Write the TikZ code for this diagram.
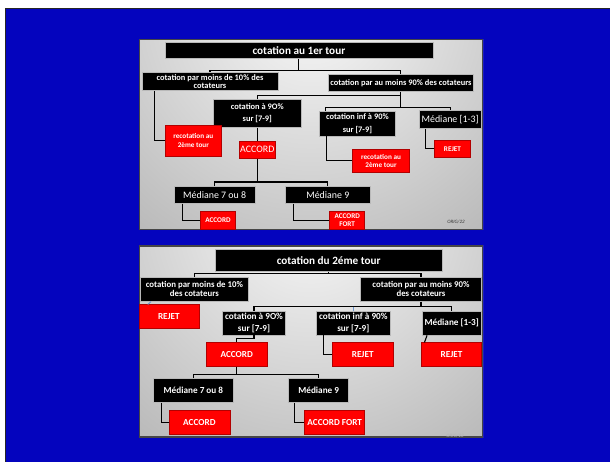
\documentclass[tikz,border=0pt]{standalone}
\usepackage{fontspec}
\setmainfont{Carlito}
\usetikzlibrary{calc}
\definecolor{slideblue}{RGB}{4,4,190}
\definecolor{tickblue}{RGB}{110,150,205}
\tikzset{
	blackbox/.style={
		rectangle,
		fill=black,
		text=white,
		draw=gray!55,
		line width=.6pt,
		align=center,
		inner sep=0pt
	},
	redbox/.style={
		rectangle,
		fill=red,
		text=white,
		draw=red!70!black,
		line width=.5pt,
		align=center,
		inner sep=0pt
	},
	link/.style={draw=black, line width=1.1pt},
	tick/.style={draw=tickblue, line width=1pt},
	bigtxt/.style={font=\fontsize{11.2}{13}\selectfont\bfseries},
	smalltxt/.style={font=\fontsize{8.4}{12.7}\selectfont\bfseries},
	tinytxt/.style={font=\fontsize{7.2}{8.6}\selectfont\bfseries},
	plaintxt/.style={font=\fontsize{9.9}{12}\selectfont},
	midtxt/.style={font=\fontsize{9.2}{12}\selectfont\bfseries},
	signtxt/.style={font=\fontsize{5}{6}\selectfont\itshape, text=gray!45!black}
}
\begin{document}
\begin{tikzpicture}[x=1pt,y=-1pt]
	\useasboundingbox (0,0) rectangle (610,462);
	\fill[white] (0,0) rectangle (610,462);
	\fill[slideblue, draw=black!85, line width=1.5pt] (5.5,8.5) rectangle (614,466);
	
	\begin{scope}
		\clip (139,39.5) rectangle (483,230);
		\shade[inner color=gray!5, outer color=black!52] (311,10) circle (560);
	\end{scope}
	\draw[gray!55!black, line width=1.2pt] (139.6,39.5) rectangle (482.4,229.4);
	\begin{scope}
		\clip (139,246) rectangle (483,437.5);
		\shade[inner color=gray!5, outer color=black!52] (311,216) circle (560);
	\end{scope}
	\draw[gray!55!black, line width=1.2pt] (139.6,246) rectangle (482.4,436.9);
	
	% 1er tour
	\node[blackbox, bigtxt, minimum width=268pt, minimum height=16.7pt] (T1) at (298.9,50.3) {cotation au 1er tour};
	\node[blackbox, font=\fontsize{8.4}{8.6}\selectfont\bfseries, minimum width=136pt, minimum height=18.4pt] (A1) at (210,81.5) {cotation par moins de 10\% des\\cotateurs};
	\node[blackbox, smalltxt, minimum width=144.3pt, minimum height=16.6pt] (B1) at (400.9,83) {cotation par au moins 90\% des cotateurs};
	\node[blackbox, smalltxt, minimum width=88.3pt, minimum height=28.3pt] (C1) at (257.3,113.2) {cotation à 9O\%\\sur [7-9]};
	\node[blackbox, smalltxt, minimum width=76.7pt, minimum height=24.7pt] (D1) at (357.4,123.7) {cotation inf à 90\%\\sur [7-9]};
	\node[blackbox, plaintxt, minimum width=62.3pt, minimum height=18pt] (E1) at (450.2,119.7) {Médiane [1-3]};
	\node[redbox, tinytxt, minimum width=56pt, minimum height=30.7pt] (F1) at (193.3,140.7) {recotation au\\2ème tour};
	\node[redbox, plaintxt, minimum width=35.6pt, minimum height=17.3pt] (G1) at (257.3,149.7) {ACCORD};
	\node[redbox, tinytxt, minimum width=57.4pt, minimum height=23.7pt] (H1) at (381,160.8) {recotation au\\2ème tour};
	\node[redbox, tinytxt, minimum width=35.6pt, minimum height=17.3pt] (I1) at (452.5,148.7) {REJET};
	\node[blackbox, plaintxt, minimum width=81.3pt, minimum height=17.3pt] (J1) at (214.7,194.7) {Médiane 7 ou 8};
	\node[blackbox, plaintxt, minimum width=85pt, minimum height=17.3pt] (K1) at (327.8,194.7) {Médiane 9};
	\node[redbox, tinytxt, minimum width=35.4pt, minimum height=17.6pt] (L1) at (218,220.5) {ACCORD};
	\node[redbox, font=\fontsize{7.2}{7.8}\selectfont\bfseries, minimum width=35pt, minimum height=17.6pt] (M1) at (347.2,220.5) {ACCORD\\FORT};
	\node[signtxt] (S1) at (456,221.7) {ORIG/22};
	
	\draw[link] (T1.south) -- ++(0,11.4) coordinate (t1);
	\draw[link] (t1) -| (A1.north);
	\draw[link] (t1) -| (B1.north);
	\draw[link] ([xshift=12.7pt]A1.south west) |- (F1.west);
	\draw[link] (B1.south) -- ++(0,4) coordinate (b1) -- ++(0,11.7) coordinate (b2);
	\draw[link] (b1) -| (C1.north);
	\draw[link] (b2) -| ([xshift=6.7pt]D1.north west);
	\draw[link] (b2) -| (E1.north);
	\draw[link] (C1.south) -- (G1.north);
	\draw[link] ([xshift=8pt]D1.south west) |- (H1.west);
	\draw[link] ([xshift=6.3pt]E1.south west) |- (I1.west);
	\draw[link] (G1.south) -- ++(0,23.4) coordinate (g1);
	\draw[link] (g1) -| (J1.north);
	\draw[link] (g1) -| (K1.north);
	\draw[link] ([xshift=8.3pt]J1.south west) |- (L1.west);
	\draw[link] ([xshift=8.7pt]K1.south west) |- (M1.west);
	
	% 2eme tour
	\node[blackbox, bigtxt, minimum width=226.7pt, minimum height=22.3pt] (T2) at (328.7,260.2) {cotation du 2éme tour};
	\node[blackbox, font=\fontsize{8.8}{8.8}\selectfont\bfseries, minimum width=107.3pt, minimum height=24.3pt] (A2) at (194.4,289.2) {cotation par moins de 10\%\\des cotateurs};
	\node[blackbox, font=\fontsize{8.8}{8.8}\selectfont\bfseries, minimum width=120.6pt, minimum height=24.3pt] (B2) at (421,289.2) {cotation par au moins 90\%\\des cotateurs};
	\node[redbox, midtxt, minimum width=59.7pt, minimum height=23.3pt] (R2) at (168.9,316.3) {REJET};
	\node[blackbox, midtxt, minimum width=63.4pt, minimum height=23.7pt] (C2) at (254,323.2) {cotation à 9O\%\\sur [7-9]};
	\node[blackbox, midtxt, minimum width=74pt, minimum height=23.7pt] (D2) at (353.3,323.2) {cotation inf à 90\%\\sur [7-9]};
	\node[blackbox, midtxt, minimum width=59.3pt, minimum height=23.7pt] (E2) at (451.7,323.2) {Médiane [1-3]};
	\node[redbox, midtxt, minimum width=60.7pt, minimum height=24pt] (G2) at (236.7,354.7) {ACCORD};
	\node[redbox, midtxt, minimum width=60.7pt, minimum height=24pt] (H2) at (362.7,354.7) {REJET};
	\node[redbox, midtxt, minimum width=59.6pt, minimum height=24pt] (I2) at (451.5,354.7) {REJET};
	\node[blackbox, midtxt, minimum width=80.7pt, minimum height=24pt] (J2) at (193.4,390.3) {Médiane 7 ou 8};
	\node[blackbox, midtxt, minimum width=60pt, minimum height=24pt] (K2) at (318.7,390.3) {Médiane 9};
	\node[redbox, midtxt, minimum width=60.7pt, minimum height=23.7pt] (L2) at (199.4,422.2) {ACCORD};
	\node[redbox, midtxt, minimum width=60pt, minimum height=23.7pt] (M2) at (334.7,422.2) {ACCORD FORT};
	\node[signtxt, text=gray!60] (S2) at (455,435.5) {ORIG/22};
	
	\draw[link] (T2.south) -- ++(0,1.7) coordinate (t2);
	\draw[link] (t2) -| (A2.north);
	\draw[link] (t2) -| (B2.north);
	\draw[tick] ([xshift=10.5pt]A2.south west) -- ([xshift=9pt]R2.north west);
	\draw[link] (B2.south) -- ++(0,5) coordinate (b3);
	\draw[link] (b3) -| (C2.north);
	\draw[link] (b3) -| (E2.north);
	\draw[tick] (D2.north |- b3) -- (D2.north);
	\draw[link] (C2.south) -- ++(0,3.3) -| (G2.north);
	\draw[link] ([xshift=7.4pt]D2.south west) |- (H2.west);
	\draw[link] ([xshift=5.3pt]E2.south west) -- ([xshift=3pt]I2.north west);
	\draw[link] (G2.south) -- ++(0,7.6) coordinate (g2);
	\draw[link] (g2) -| (J2.north);
	\draw[link] (g2) -| (K2.north);
	\draw[link] ([xshift=8.3pt]J2.south west) |- (L2.west);
	\draw[link] ([xshift=6pt]K2.south west) |- (M2.west);
\end{tikzpicture}
\end{document}
